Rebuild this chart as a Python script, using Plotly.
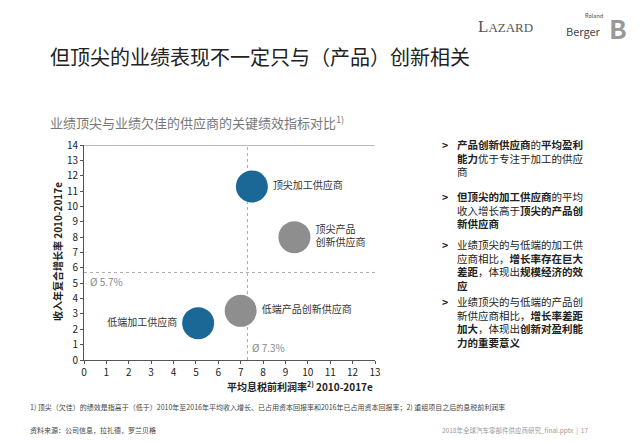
import plotly.graph_objects as go

labels = ["顶尖加工供应商", "顶尖产品<br>创新供应商", "低端产品创新供应商", "低端加工供应商"]
ebit_margin = [7.5, 9.4, 7.0, 5.1]
revenue_cagr = [11.3, 8.0, 3.2, 2.4]
colors = ["#1b6896", "#8e8e8e", "#8e8e8e", "#1b6896"]
label_pos = ["middle right", "middle right", "middle right", "middle left"]
avg_margin = 7.3
avg_growth = 5.7

F = "Noto Sans CJK SC"
fig = go.Figure()
fig.add_trace(go.Scatter(
    x=ebit_margin, y=revenue_cagr, mode="markers+text",
    marker=dict(size=32, color=colors, line=dict(width=0)),
    text=labels, textposition=label_pos,
    textfont=dict(family=F, size=10, color="#333"), cliponaxis=False, hoverinfo="skip"))

fig.add_shape(type="line", x0=avg_margin, x1=avg_margin, y0=0, y1=14, line=dict(color="#aaa", width=1, dash="dot"), layer="below")
fig.add_shape(type="line", x0=0, x1=13, y0=avg_growth, y1=avg_growth, line=dict(color="#aaa", width=1, dash="dot"), layer="below")
fig.add_shape(type="line", x0=0, x1=13, y0=14, y1=14, line=dict(color="#777", width=1))
fig.add_annotation(x=0.2, y=avg_growth, text="Ø 5.7%", showarrow=False, xanchor="left", yanchor="top", font=dict(family=F, size=10, color="#888"))
fig.add_annotation(x=avg_margin + 0.1, y=0.2, text="Ø 7.3%", showarrow=False, xanchor="left", yanchor="bottom", font=dict(family=F, size=10, color="#888"))

OFF = 8  # page body margin
W, H = 640 - 2 * OFF, 443 - 2 * OFF
L, R, T, B = 84 - OFF, 265 - OFF, 145 - OFF, 83 - OFF
pw, ph = W - L - R, H - T - B
def px(x): return (x - OFF - L) / pw
def py(y): return (H - B - (y - OFF)) / ph

def ann(x, y, text, size, color="#222", xa="left", ya="middle", family=F, **kw):
    fig.add_annotation(xref="paper", yref="paper", x=px(x), y=py(y), text=text, showarrow=False,
                       xanchor=xa, yanchor=ya, font=dict(family=family, size=size, color=color), align="left", **kw)

ann(48, 57, "但顶尖的业绩表现不一定只与（产品）创新相关", 20, "#222")
ann(48, 122, "业绩顶尖与业绩欠佳的供应商的关键绩效指标对比<sup>1)</sup>", 13, "#777")
ann(476, 26, "L<span style='font-size:13px'>AZARD</span>", 17, "#555", family="Liberation Serif")
ann(564, 31, "Berger", 11, "#444")
ann(583, 16, "Roland", 5.5, "#444")
ann(607, 27, "<b>B</b>", 26, "#999")
ann(375, 386, "<b>平均息税前利润率<sup>2)</sup> 2010-2017e</b>", 10, "#222", xa="right")
ann(57, 252, "<b>收入年复合增长率 2010-2017e</b>", 10, "#222", xa="center", textangle=-90)
ann(28, 407, "1) 顶尖（欠佳）的绩效是指高于（低于）2010年至2016年平均收入增长、已占用资本回报率和2016年已占用资本回报率；2) 重组项目之后的息税前利润率", 7, "#444")
ann(28, 430, "资料来源：公司信息，拉扎德，罗兰贝格", 7, "#444")
ann(590, 430, "2018年全球汽车零部件供应商研究_final.pptx  |  17", 6.5, "#999", xa="right")

bullets = [
    "<b>产品创新供应商</b>的<b>平均盈利<br>能力</b>优于专注于加工的供应<br>商",
    "<b>但顶尖的加工供应商</b>的平均<br>收入增长高于<b>顶尖的产品创<br>新供应商</b>",
    "业绩顶尖的与低端的加工供<br>应商相比，<b>增长率存在巨大<br>差距</b>，体现出<b>规模经济的效<br>应</b>",
    "业绩顶尖的与低端的产品创<br>新供应商相比，<b>增长率差距<br>加大</b>，体现出<b>创新对盈利能<br>力的重要意义</b>",
]
tops = [135, 187, 235, 292]
for t, b in zip(tops, bullets):
    ann(440, t, "<b>&gt;</b>", 10.5, "#222", ya="top")
    ann(455, t, b, 10.5, "#222", ya="top")

fig.update_xaxes(range=[0, 13], dtick=1, showgrid=False, zeroline=False, showline=True, linecolor="#555",
                 ticks="outside", ticklen=3, tickcolor="#555", tickfont=dict(family=F, size=10, color="#222"))
fig.update_yaxes(range=[0, 14], dtick=1, showgrid=False, zeroline=False, showline=True, linecolor="#555",
                 ticks="outside", ticklen=3, tickcolor="#555", tickfont=dict(family=F, size=10, color="#222"))
fig.update_layout(width=W, height=H, margin=dict(l=L, r=R, t=T, b=B), showlegend=False,
                  plot_bgcolor="white", paper_bgcolor="white")
fig.write_html("out.html")
